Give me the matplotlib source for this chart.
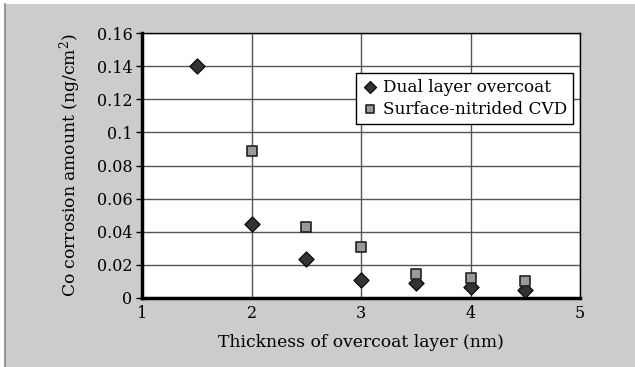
import matplotlib
matplotlib.use('Agg')
import matplotlib.pyplot as plt
from matplotlib.patches import Rectangle

# thickness (nm) vs Co corrosion (ng/cm2)
dual_x = [1.5, 2.0, 2.5, 3.0, 3.5, 4.0, 4.5]
dual_y = [0.140, 0.0447, 0.0235, 0.0109, 0.0089, 0.0066, 0.0046]
cvd_x = [2.0, 2.5, 3.0, 3.5, 4.0, 4.5]
cvd_y = [0.0888, 0.043, 0.031, 0.0145, 0.0123, 0.0103]

xticks = [1, 2, 3, 4, 5]
yticks = [0, 0.02, 0.04, 0.06, 0.08, 0.1, 0.12, 0.14, 0.16]
ytick_labels = ['0', '0.02', '0.04', '0.06', '0.08', '0.1', '0.12', '0.14', '0.16']

plt.rcParams['font.family'] = ['DejaVu Serif']
plt.rcParams['mathtext.fontset'] = 'dejavuserif'

fig = plt.figure(figsize=(6.35, 3.67), dpi=100)
fig.patch.set_facecolor('white')
# grey panel behind the chart
fig.patches.append(Rectangle((5/635, 0), 1, 1 - 4/367, transform=fig.transFigure,
                             facecolor='#cccccc', edgecolor='none', zorder=-2))
fig.lines.append(plt.Line2D([5/635, 5/635], [0, 1 - 4/367], transform=fig.transFigure,
                            color='#888888', linewidth=1.2, zorder=-1))

ax = fig.add_axes([142/635, 69/367, 438/635, 265/367])
ax.set_facecolor('white')

ax.scatter(dual_x, dual_y, marker='D', s=60, facecolor='#333333', edgecolor='black',
           linewidth=0.8, zorder=3, label='Dual layer overcoat')
ax.scatter(cvd_x, cvd_y, marker='s', s=50, facecolor='#999999', edgecolor='#222222',
           linewidth=1.2, zorder=3, label='Surface-nitrided CVD')

ax.set_xlim(1, 5)
ax.set_ylim(0, 0.16)
ax.set_xticks(xticks)
ax.set_yticks(yticks)
ax.set_yticklabels(ytick_labels)
ax.grid(True, color='#555555', linewidth=1.0)
ax.set_axisbelow(True)

for side in ['left', 'bottom']:
    ax.spines[side].set_linewidth(2.5)
for side in ['top', 'right']:
    ax.spines[side].set_linewidth(1.0)

ax.tick_params(axis='both', labelsize=11.5, length=4, width=1, direction='out', pad=3)
ax.tick_params(axis='x', length=0, pad=5)

ax.set_xlabel('Thickness of overcoat layer (nm)', fontsize=12.3, labelpad=9)
ax.set_ylabel('Co corrosion amount (ng/cm$^2$)', fontsize=12.3, labelpad=10)

leg = ax.legend(loc='upper right', bbox_to_anchor=(0.984, 0.85), fontsize=12.2,
                frameon=True, fancybox=False, edgecolor='black', framealpha=1,
                handletextpad=0.25, borderpad=0.35, labelspacing=0.3, handlelength=1.0,
                markerscale=0.8, borderaxespad=0)
leg.get_frame().set_linewidth(1.0)

fig.savefig('out.png', dpi=100)
